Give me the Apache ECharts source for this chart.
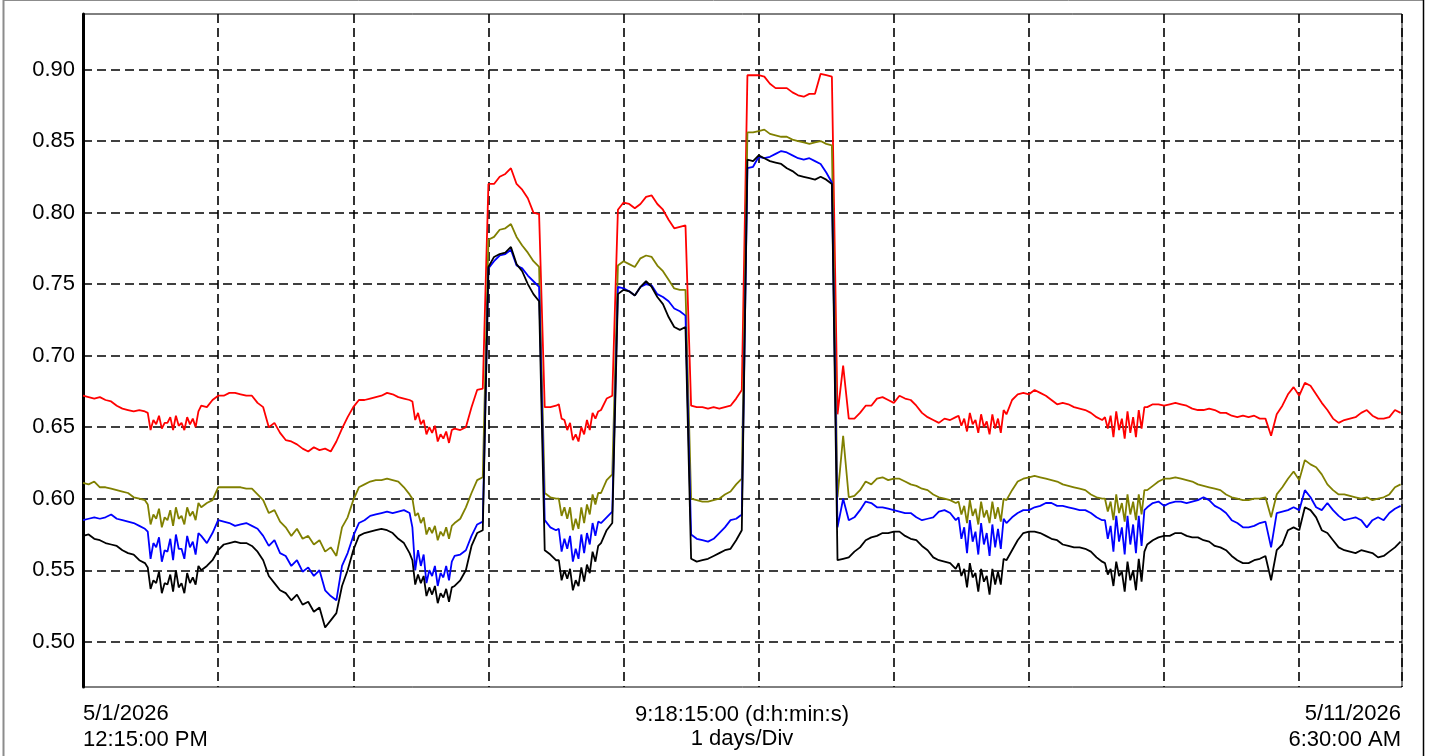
<!DOCTYPE html>
<html><head><meta charset="utf-8">
<script src="https://cdn.jsdelivr.net/npm/echarts@6/dist/echarts.min.js"></script>
<style>html,body{margin:0;padding:0;background:#fff;}#c{width:1431px;height:756px;}</style>
</head><body><div id="c"></div>
<script>
// hourly samples starting 5/1/2026 12:15:00 PM (hour 0)
const red = [
0.672,0.671,0.670,0.671,0.669,0.668,0.665,0.663,0.662,0.661,0.662,0.661,
0.648,0.652,0.649,0.653,0.648,0.651,0.648,0.652,0.650,0.665,0.664,0.669,
0.672,0.672,0.674,0.674,0.673,0.672,0.672,0.667,0.664,0.650,0.653,0.646,
0.641,0.640,0.638,0.635,0.633,0.636,0.634,0.635,0.633,0.640,0.649,0.657,
0.664,0.669,0.669,0.670,0.671,0.672,0.674,0.673,0.671,0.670,0.669,0.655,
0.652,0.645,0.646,0.640,0.642,0.639,0.649,0.648,0.650,0.664,0.676,0.677,
0.820,0.820,0.825,0.827,0.831,0.820,0.816,0.810,0.800,0.799,
0.664,0.664,0.665,0.656,0.648,0.641,0.640,0.645,0.648,0.656,0.662,0.670,0.672,
0.802,0.807,0.806,0.803,0.806,0.811,0.812,0.806,0.802,0.795,0.789,0.790,0.791,
0.665,0.664,0.664,0.663,0.664,0.663,0.664,0.665,0.670,0.676,
0.896,0.896,0.896,0.895,0.890,0.887,0.887,0.887,0.884,0.882,0.881,0.883,0.883,0.897,0.896,0.895,
0.659,0.693,0.656,0.656,0.660,0.665,0.665,0.670,0.671,0.669,0.667,0.672,
0.670,0.669,0.665,0.660,0.657,0.655,0.653,0.656,0.655,0.657,0.651,0.647,
0.652,0.646,0.650,0.645,0.649,0.646,0.659,0.669,0.673,0.674,0.673,0.676,
0.674,0.672,0.669,0.666,0.667,0.666,0.664,0.663,0.662,0.660,0.657,0.655,
0.649,0.643,0.648,0.642,0.646,0.643,0.649,0.664,0.666,0.666,0.665,0.666,
0.667,0.666,0.665,0.663,0.662,0.662,0.663,0.662,0.660,0.660,0.658,0.657,
0.658,0.657,0.658,0.656,0.656,0.644,0.659,0.665,0.673,0.678,0.672,0.681,
0.679,0.673,0.667,0.662,0.656,0.653,0.655,0.656,0.657,0.660,0.662,0.658,
0.656,0.656,0.657,0.662,0.660
];
const olive = [
0.611,0.610,0.612,0.608,0.608,0.607,0.606,0.605,0.604,0.601,0.600,0.599,
0.582,0.586,0.580,0.585,0.581,0.586,0.582,0.588,0.585,0.594,0.597,0.599,
0.608,0.608,0.608,0.608,0.608,0.607,0.607,0.603,0.599,0.590,0.592,0.584,
0.580,0.574,0.579,0.572,0.574,0.568,0.571,0.563,0.566,0.560,0.580,0.587,
0.599,0.608,0.610,0.612,0.613,0.613,0.614,0.613,0.612,0.608,0.603,0.588,
0.583,0.575,0.576,0.571,0.574,0.572,0.583,0.586,0.594,0.604,0.613,0.615,
0.781,0.783,0.788,0.789,0.792,0.783,0.777,0.772,0.766,0.762,
0.604,0.601,0.600,0.588,0.586,0.578,0.579,0.583,0.589,0.596,0.604,0.613,0.617,
0.763,0.766,0.764,0.762,0.768,0.770,0.769,0.763,0.759,0.753,0.747,0.746,0.746,
0.600,0.599,0.598,0.598,0.599,0.600,0.603,0.605,0.610,0.614,
0.856,0.856,0.857,0.858,0.855,0.854,0.853,0.853,0.851,0.850,0.849,0.848,0.849,0.850,0.848,0.847,
0.601,0.644,0.601,0.602,0.606,0.612,0.610,0.614,0.615,0.613,0.614,0.614,
0.612,0.610,0.609,0.607,0.606,0.603,0.601,0.600,0.599,0.597,0.589,0.583,
0.588,0.582,0.587,0.583,0.586,0.584,0.599,0.606,0.612,0.614,0.615,0.616,
0.615,0.614,0.613,0.612,0.610,0.609,0.608,0.607,0.606,0.603,0.601,0.600,
0.591,0.585,0.590,0.584,0.589,0.585,0.589,0.606,0.609,0.612,0.614,0.614,
0.615,0.614,0.613,0.612,0.610,0.609,0.608,0.607,0.606,0.603,0.601,0.600,
0.599,0.599,0.600,0.600,0.601,0.587,0.603,0.608,0.614,0.619,0.613,0.627,
0.624,0.622,0.617,0.610,0.606,0.603,0.603,0.602,0.601,0.600,0.601,0.599,
0.600,0.601,0.603,0.608,0.610
];
const blue = [
0.585,0.586,0.587,0.586,0.587,0.589,0.586,0.585,0.584,0.583,0.581,0.579,
0.558,0.566,0.556,0.563,0.557,0.565,0.558,0.566,0.561,0.574,0.569,0.576,
0.585,0.584,0.583,0.581,0.582,0.583,0.581,0.579,0.574,0.567,0.571,0.562,
0.560,0.553,0.557,0.549,0.552,0.546,0.550,0.536,0.532,0.529,0.553,0.562,
0.574,0.583,0.585,0.588,0.589,0.590,0.591,0.590,0.591,0.592,0.590,0.550,
0.553,0.541,0.546,0.539,0.545,0.543,0.560,0.561,0.564,0.574,0.582,0.584,
0.761,0.766,0.770,0.771,0.774,0.763,0.761,0.756,0.752,0.748,
0.585,0.580,0.578,0.563,0.565,0.556,0.558,0.562,0.568,0.574,0.583,0.587,0.591,
0.748,0.747,0.745,0.742,0.748,0.750,0.749,0.743,0.741,0.738,0.733,0.731,0.728,
0.575,0.572,0.571,0.570,0.572,0.576,0.580,0.585,0.586,0.589,
0.831,0.832,0.839,0.838,0.839,0.841,0.843,0.842,0.840,0.838,0.837,0.838,0.836,0.834,0.828,0.821,
0.580,0.600,0.585,0.587,0.592,0.598,0.597,0.594,0.594,0.593,0.592,0.591,
0.590,0.590,0.587,0.585,0.586,0.587,0.591,0.592,0.590,0.585,0.572,0.562,
0.570,0.561,0.568,0.560,0.566,0.565,0.583,0.587,0.590,0.592,0.592,0.594,
0.595,0.597,0.597,0.595,0.595,0.594,0.593,0.592,0.592,0.590,0.587,0.585,
0.572,0.563,0.570,0.561,0.568,0.562,0.567,0.594,0.597,0.598,0.595,0.597,
0.598,0.598,0.597,0.598,0.599,0.601,0.599,0.595,0.593,0.590,0.585,0.583,
0.580,0.580,0.581,0.583,0.584,0.566,0.590,0.591,0.592,0.594,0.592,0.606,
0.601,0.594,0.592,0.597,0.592,0.588,0.585,0.586,0.587,0.585,0.580,0.585,
0.587,0.585,0.590,0.593,0.595
];
const black = [
0.574,0.575,0.572,0.571,0.569,0.568,0.567,0.564,0.562,0.561,0.557,0.555,
0.537,0.541,0.534,0.540,0.535,0.538,0.534,0.541,0.540,0.550,0.553,0.557,
0.564,0.568,0.569,0.570,0.569,0.569,0.567,0.563,0.557,0.546,0.541,0.536,
0.534,0.529,0.533,0.526,0.528,0.521,0.524,0.510,0.515,0.520,0.539,0.550,
0.564,0.574,0.576,0.577,0.578,0.579,0.578,0.576,0.572,0.569,0.562,0.540,
0.541,0.532,0.533,0.527,0.531,0.528,0.539,0.543,0.550,0.567,0.576,0.578,
0.762,0.769,0.771,0.772,0.776,0.764,0.759,0.750,0.743,0.738,
0.564,0.561,0.557,0.543,0.544,0.536,0.539,0.542,0.548,0.556,0.569,0.578,0.583,
0.743,0.746,0.745,0.742,0.748,0.752,0.748,0.741,0.736,0.727,0.720,0.718,0.720,
0.558,0.556,0.557,0.558,0.560,0.562,0.564,0.565,0.571,0.578,
0.837,0.836,0.840,0.838,0.836,0.835,0.834,0.831,0.829,0.826,0.825,0.824,0.823,0.825,0.823,0.820,
0.557,0.558,0.559,0.563,0.566,0.571,0.573,0.574,0.576,0.576,0.577,0.577,
0.574,0.572,0.571,0.567,0.564,0.559,0.557,0.556,0.555,0.551,0.546,0.538,
0.545,0.535,0.542,0.533,0.540,0.540,0.557,0.564,0.571,0.576,0.577,0.577,
0.576,0.574,0.572,0.571,0.568,0.567,0.566,0.566,0.565,0.563,0.559,0.556,
0.547,0.539,0.546,0.535,0.543,0.536,0.542,0.568,0.571,0.573,0.574,0.574,
0.576,0.576,0.574,0.573,0.573,0.571,0.570,0.567,0.566,0.564,0.560,0.557,
0.555,0.555,0.557,0.558,0.560,0.543,0.564,0.568,0.578,0.580,0.578,0.594,
0.592,0.587,0.578,0.576,0.571,0.566,0.564,0.563,0.562,0.564,0.563,0.562,
0.559,0.560,0.563,0.566,0.570
];
// extra half-hour samples in the noisy stretches (start hour of each stretch, then one value per hour)
const fineStarts = [11.5, 58.5, 84.5, 155.5, 181.5];
const redFine = [
 [0.660,0.655,0.658,0.653,0.657,0.658,0.653,0.657,0.656,0.661],
 [0.668,0.660,0.655,0.650,0.651,0.645,0.647,0.648],
 [0.666,0.655,0.653,0.645,0.650,0.655,0.660,0.661],
 [0.658,0.656,0.660,0.655,0.659,0.654,0.659,0.656,0.662],
 [0.657,0.658,0.661,0.656,0.661,0.657,0.662,0.664]
];
const oliveFine = [
 [0.596,0.589,0.593,0.587,0.592,0.594,0.588,0.594,0.591,0.597],
 [0.600,0.590,0.587,0.580,0.581,0.577,0.580,0.581],
 [0.600,0.594,0.594,0.586,0.594,0.596,0.603,0.604],
 [0.598,0.595,0.599,0.593,0.598,0.592,0.598,0.594,0.600],
 [0.600,0.598,0.603,0.597,0.603,0.598,0.603,0.606]
];
const blueFine = [
 [0.577,0.569,0.573,0.564,0.572,0.575,0.565,0.574,0.570,0.576],
 [0.580,0.564,0.561,0.550,0.553,0.548,0.553,0.556],
 [0.579,0.572,0.574,0.565,0.575,0.576,0.583,0.584],
 [0.587,0.580,0.585,0.577,0.583,0.576,0.582,0.579,0.586],
 [0.585,0.581,0.588,0.580,0.588,0.582,0.588,0.592]
];
const blackFine = [
 [0.552,0.543,0.549,0.541,0.547,0.550,0.541,0.548,0.545,0.553],
 [0.557,0.547,0.546,0.538,0.539,0.534,0.537,0.538],
 [0.557,0.550,0.551,0.543,0.552,0.554,0.563,0.567],
 [0.555,0.551,0.555,0.548,0.551,0.546,0.551,0.549,0.558],
 [0.555,0.551,0.556,0.549,0.556,0.550,0.558,0.563]
];
const yTicks = [0.50,0.55,0.60,0.65,0.70,0.75,0.80,0.85,0.90];
const startLabel = ['5/1/2026','12:15:00 PM'];
const midLabel = ['9:18:15:00 (d:h:min:s)','1 days/Div'];
const endLabel = ['5/11/2026','6:30:00 AM'];
const spanHours = 234.25, stepHours = 1, divHours = 24;
const yMin = 0.4684, yMax = 0.9388;

const FONT = '"Liberation Sans", Arial, sans-serif';
const gridDash = {color:'#000', width:1.6, type:[9,5]};
function build(hourly, fine){
  const d = hourly.map((v,i)=>[i*stepHours, v]);
  fine.forEach((seg,r)=>seg.forEach((v,k)=>d.push([fineStarts[r]+k*stepHours, v])));
  d.sort((a,b)=>a[0]-b[0]);
  return d;
}
function line(name, color, hourly, fine, z){
  return {name, type:'line', data: build(hourly, fine), symbol:'none', showSymbol:false,
    lineStyle:{color, width:1.8}, itemStyle:{color}, z, animation:false, silent:true};
}
function txt(x, y, s, align){
  return {type:'text', x, y, silent:true, style:{text:s, font:'22px '+FONT, fill:'#000',
    align, textAlign:align, verticalAlign:'middle', textVerticalAlign:'middle'}};
}
const chart = echarts.init(document.getElementById('c'));
chart.setOption({
  animation:false,
  backgroundColor:'#fff',
  grid:{left:83, top:14, right:29, bottom:69, show:true, borderColor:'#000', borderWidth:1, backgroundColor:'#fff'},
  xAxis:{type:'value', min:0, max:spanHours, interval:divHours,
    axisLine:{show:false}, axisTick:{show:false}, axisLabel:{show:false},
    splitLine:{show:true, lineStyle:gridDash}},
  yAxis:{type:'value', min:yMin, max:yMax,
    axisLine:{show:true, lineStyle:{color:'#000', width:3}},
    axisTick:{show:false, customValues:yTicks},
    axisLabel:{show:true, customValues:yTicks, formatter:v=>Number(v).toFixed(2), color:'#000', fontSize:22, fontFamily:FONT, margin:8},
    splitLine:{show:true, lineStyle:gridDash}},
  series:[
    line('red','#ff0000',red,redFine,2),
    line('olive','#808000',olive,oliveFine,3),
    line('blue','#0000ff',blue,blueFine,4),
    line('black','#000000',black,blackFine,5)
  ],
  graphic:[
    {type:'line', silent:true, shape:{x1:3.5,y1:0,x2:3.5,y2:756}, style:{stroke:'#8c8c8c', lineWidth:2}},
    {type:'line', silent:true, shape:{x1:3,y1:0.5,x2:1424,y2:0.5}, style:{stroke:'#8c8c8c', lineWidth:1}},
    {type:'line', silent:true, shape:{x1:1423.5,y1:0,x2:1423.5,y2:756}, style:{stroke:'#000', lineWidth:1.5}},
    txt(83, 714, startLabel[0], 'left'),
    txt(83, 740, startLabel[1], 'left'),
    txt(742, 715, midLabel[0], 'center'),
    txt(742, 739, midLabel[1], 'center'),
    txt(1401, 714, endLabel[0], 'right'),
    txt(1401, 740, endLabel[1], 'right')
  ]
});
</script></body></html>
